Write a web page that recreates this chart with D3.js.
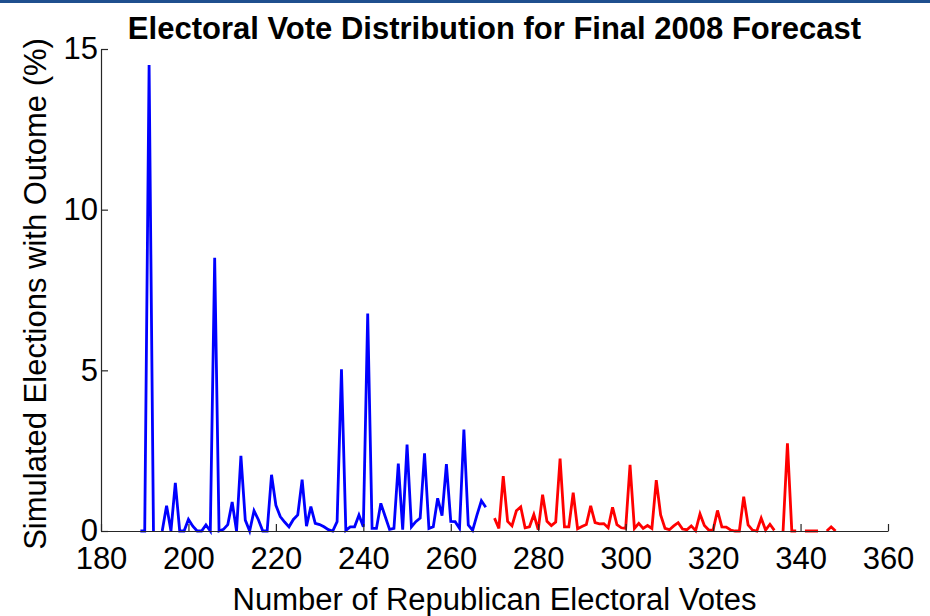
<!DOCTYPE html>
<html>
<head>
<meta charset="utf-8">
<script src="https://cdn.jsdelivr.net/npm/d3@7"></script>
<style>
  body { margin: 0; background: #fff; }
  svg { display: block; }
  text { font-family: 'Liberation Sans', Arial, sans-serif; fill: #000; }
</style>
</head>
<body>
<svg id="chart" width="930" height="616"></svg>
<script>
// share of simulated elections (%) per electoral vote count, null = no line drawn
const blueFirstVote = 189;
const blueShare = [
  0, 0, 14.5, 0, null, 0, 0.79, 0, 1.5, 0,
  0, 0.36, 0.15, 0, 0, 0.19, 0, 8.5, 0, 0.05,
  0.2, 0.9, 0, 2.34, 0.34, 0, 0.63, 0.35, 0, 0,
  1.75, 0.8, 0.45, 0.28, 0.13, 0.36, 0.5, 1.6, 0.15, 0.76,
  0.24, 0.2, 0.13, 0.04, 0, 0.29, 5.03, 0.02, 0.13, 0.13,
  0.5, 0.13, 6.77, 0.08, 0.08, 0.86, 0.45, 0.05, 0.08, 2.1,
  0.04, 2.69, 0.13, 0.29, 0.4, 2.42, 0.08, 0.13, 1.02, 0.48,
  2.08, 0.3, 0.29, 0.08, 3.16, 0.19, 0.02, 0.5, 0.94, 0.74,
];

const redFirstVote = 270;
const redShare = [
  0.4, 0.08, 1.71, 0.3, 0.16, 0.63, 0.75, 0.1, 0.13, 0.51,
  0.04, 1.13, 0.3, 0.17, 0.28, 2.25, 0.13, 0.13, 1.19, 0.07,
  0.14, 0.2, 0.78, 0.26, 0.22, 0.23, 0.1, 0.74, 0.2, 0.1,
  0.08, 2.06, 0.08, 0.24, 0.08, 0.17, 0.08, 1.58, 0.5, 0.08,
  0.04, 0.16, 0.26, 0.06, 0.04, 0.16, 0.01, 0.53, 0.17, 0.03,
  0.03, 0.64, 0.13, 0.12, 0.03, 0, 0, 1.07, 0.19, 0.03,
  0, 0.4, 0.03, 0.21, 0.02, null, 0, 2.73, 0, 0,
  null, 0, 0, 0, 0, null, 0, 0.13, 0,
];

const xTicks = [180, 200, 220, 240, 260, 280, 300, 320, 340, 360];
const yTicks = [0, 5, 10, 15];

const title = 'Electoral Vote Distribution for Final 2008 Forecast';
const xLabel = 'Number of Republican Electoral Votes';
const yLabel = 'Simulated Elections with Outome (%)';

const plot = { left: 101, right: 888, top: 49, bottom: 531 };
const fontSize = 31;

const svg = d3.select('#chart');

// thin page banner at the very top
svg.append('rect')
  .attr('x', 0).attr('y', 0)
  .attr('width', 930).attr('height', 3)
  .attr('fill', '#1f4f8e');

const x = d3.scaleLinear().domain([180, 360]).range([plot.left, plot.right]);
const y = d3.scaleLinear().domain([0, 15]).range([plot.bottom, plot.top]);

const toPoints = (first, shares) => shares.map((v, i) => ({ vote: first + i, share: v }));

const line = d3.line()
  .defined(d => d.share !== null)
  .x(d => x(d.vote))
  .y(d => y(d.share));

const series = [
  { color: '#0000ff', points: toPoints(blueFirstVote, blueShare) },
  { color: '#ff0000', points: toPoints(redFirstVote, redShare) },
];

svg.append('g')
  .selectAll('path')
  .data(series)
  .enter().append('path')
  .attr('fill', 'none')
  .attr('stroke', d => d.color)
  .attr('stroke-width', 2.8)
  .attr('d', d => line(d.points));

const xAxis = svg.append('g')
  .attr('transform', `translate(0,${plot.bottom})`)
  .call(d3.axisBottom(x).tickValues(xTicks).tickSizeInner(-7).tickSizeOuter(0).tickPadding(16));

const yAxis = svg.append('g')
  .attr('transform', `translate(${plot.left},0)`)
  .call(d3.axisLeft(y).tickValues(yTicks).tickSizeInner(-7).tickSizeOuter(0).tickPadding(3));

[xAxis, yAxis].forEach((g) => {
  g.select('.domain').attr('stroke', '#262626').attr('stroke-width', 1.2);
  g.selectAll('.tick line').attr('stroke', '#262626').attr('stroke-width', 1.2);
  g.selectAll('.tick text')
    .attr('font-size', fontSize)
    .attr('font-family', null)
    .attr('fill', '#000');
});

svg.append('text')
  .attr('x', (plot.left + plot.right) / 2)
  .attr('y', 39)
  .attr('text-anchor', 'middle')
  .attr('font-size', fontSize)
  .attr('font-weight', 'bold')
  .text(title);

svg.append('text')
  .attr('x', (plot.left + plot.right) / 2)
  .attr('y', 610)
  .attr('text-anchor', 'middle')
  .attr('font-size', fontSize)
  .text(xLabel);

svg.append('text')
  .attr('transform', `translate(46,${(plot.top + plot.bottom) / 2 + 4}) rotate(-90)`)
  .attr('text-anchor', 'middle')
  .attr('font-size', fontSize)
  .text(yLabel);
</script>
</body>
</html>
